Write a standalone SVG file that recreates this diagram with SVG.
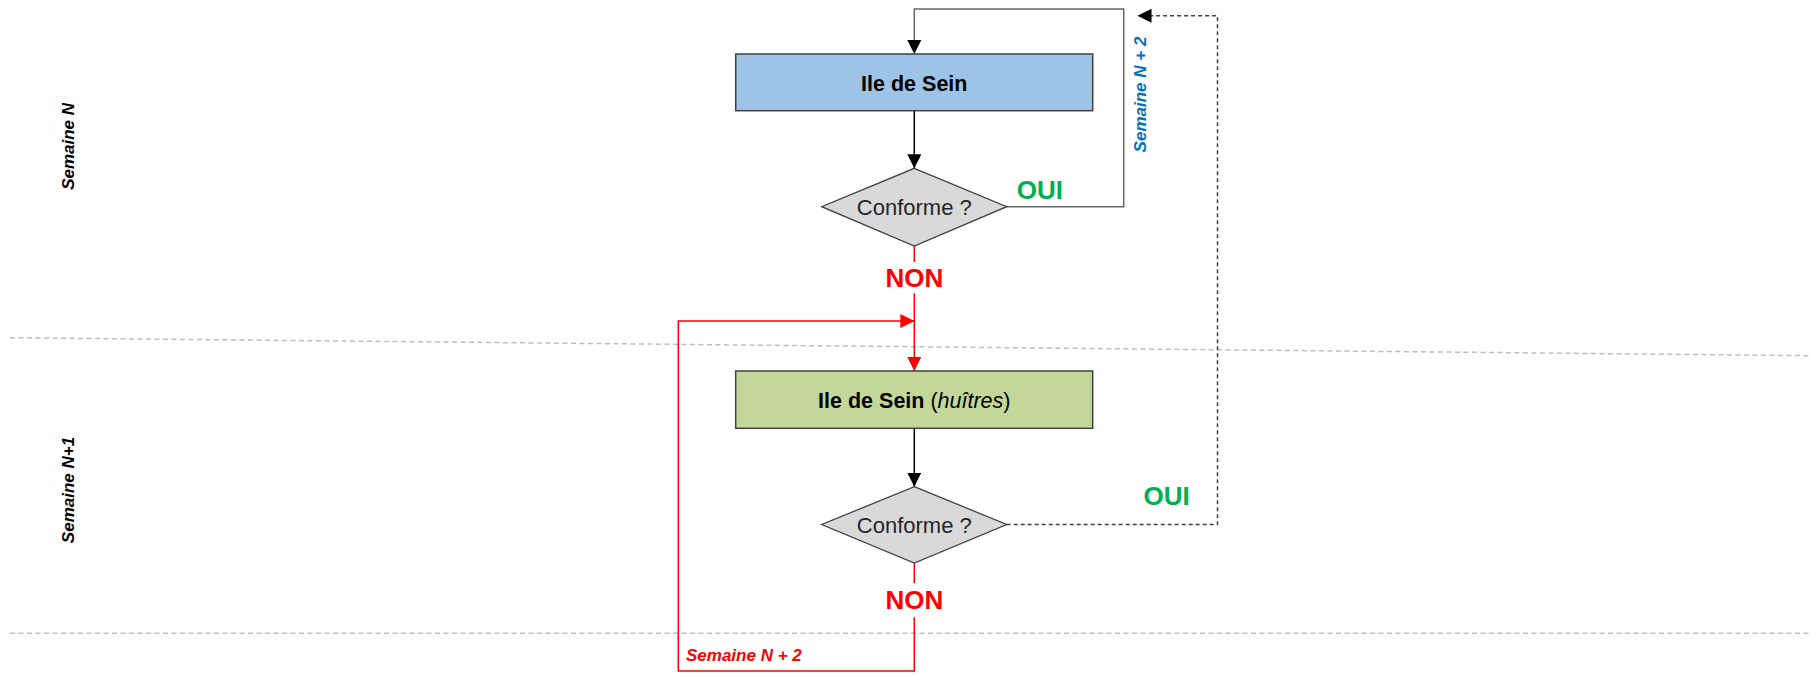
<svg xmlns="http://www.w3.org/2000/svg" width="1810" height="676" viewBox="0 0 1810 676">
<style>
.bg{fill:#ffffff}
.sep{stroke:#BFBFBF;stroke-width:1.5;stroke-dasharray:5 3.5;fill:none}
.box{stroke:#404040;stroke-width:1.5}
.dia{fill:#D9D9D9;stroke:#404040;stroke-width:1.3}
.blk{stroke:#000;stroke-width:1.5;fill:none}
.gry{stroke:#666666;stroke-width:1.5;fill:none}
.dsh{stroke:#404040;stroke-width:1.5;fill:none;stroke-dasharray:4 3}
.red{stroke:#FF0000;stroke-width:1.5;fill:none}
text{font-family:"Liberation Sans",Arial,sans-serif}
.lbl{font-size:21.5px;fill:#000}
.cond{font-size:22px;fill:#262626;text-anchor:middle}
.oui{font-size:26px;font-weight:bold;fill:#00B050}
.non{font-size:26px;font-weight:bold;fill:#FF0000;text-anchor:middle}
.sem{font-size:17px;font-weight:bold;font-style:italic}
</style>
<defs>
<marker id="aB" viewBox="0 0 14 14" refX="14" refY="7" markerWidth="14" markerHeight="14" markerUnits="userSpaceOnUse" orient="auto"><path d="M0,0 L14,7 L0,14 z" fill="#000"/></marker>
<marker id="aR" viewBox="0 0 14 14" refX="14" refY="7" markerWidth="14" markerHeight="14" markerUnits="userSpaceOnUse" orient="auto"><path d="M0,0 L14,7 L0,14 z" fill="#FF0000"/></marker>
</defs>
<rect class="bg" x="0" y="0" width="1810" height="676"/>
<g id="separators">
<line class="sep" x1="10" y1="337.7" x2="1810" y2="355.7"/>
<line class="sep" x1="10" y1="633.3" x2="1810" y2="633.3"/>
</g>
<g id="week-labels">
<text class="sem" fill="#000" text-anchor="middle" transform="translate(73.5,146.4) rotate(-90)">Semaine N</text>
<text class="sem" fill="#000" text-anchor="middle" transform="translate(73.5,490) rotate(-90)">Semaine N+1</text>
</g>
<g id="connectors">
<line class="blk" x1="914.3" y1="110.7" x2="914.3" y2="168.3" marker-end="url(#aB)"/>
<path class="gry" d="M1006.7,206.7 H1123.7 V9 H914.3 V40"/>
<path d="M907.3,40 L921.3,40 L914.3,54 z" fill="#000"/>
<line class="blk" x1="914.3" y1="428.3" x2="914.3" y2="486.7" marker-end="url(#aB)"/>
<line class="red" x1="914.3" y1="246" x2="914.3" y2="262"/>
<line class="red" x1="914.3" y1="293.3" x2="914.3" y2="371" marker-end="url(#aR)"/>
<line class="red" x1="914.3" y1="563" x2="914.3" y2="583"/>
<path class="red" d="M914.3,617.3 V671 H678.3 V321 H914.3" marker-end="url(#aR)"/>
<path class="dsh" d="M1006.7,524.5 H1217.5 V15.7 H1150"/>
<path d="M1137.5,15.7 L1151.5,8.7 L1151.5,22.7 z" fill="#000"/>
<text class="oui" x="1016.7" y="199">OUI</text>
<text class="oui" x="1143.5" y="505">OUI</text>
<text class="non" x="914.3" y="286.5">NON</text>
<text class="non" x="914.3" y="609.3">NON</text>
<text class="sem" fill="#0070C0" text-anchor="middle" transform="translate(1146,94.5) rotate(-90)">Semaine N + 2</text>
<text class="sem" fill="#FF0000" x="686" y="660.7">Semaine N + 2</text>
</g>
<g id="node-blue">
<rect class="box" x="735.7" y="54" width="357" height="56.7" fill="#9DC3E6"/>
<text class="lbl" x="914.3" y="90.7" text-anchor="middle" font-weight="bold">Ile de Sein</text>
</g>
<g id="node-diamond1">
<polygon class="dia" points="914.3,168.3 1006.7,206.7 914.3,246 821.7,206.7"/>
<text class="cond" x="914.3" y="215">Conforme ?</text>
</g>
<g id="node-green">
<rect class="box" x="735.7" y="371" width="357" height="57.3" fill="#C4D79B"/>
<text class="lbl" x="914.3" y="408.3" text-anchor="middle"><tspan font-weight="bold">Ile de Sein </tspan>(<tspan font-style="italic">huîtres</tspan>)</text>
</g>
<g id="node-diamond2">
<polygon class="dia" points="914.3,486.7 1006.7,524.5 914.3,563 821.7,524.5"/>
<text class="cond" x="914.3" y="533">Conforme ?</text>
</g>
</svg>
